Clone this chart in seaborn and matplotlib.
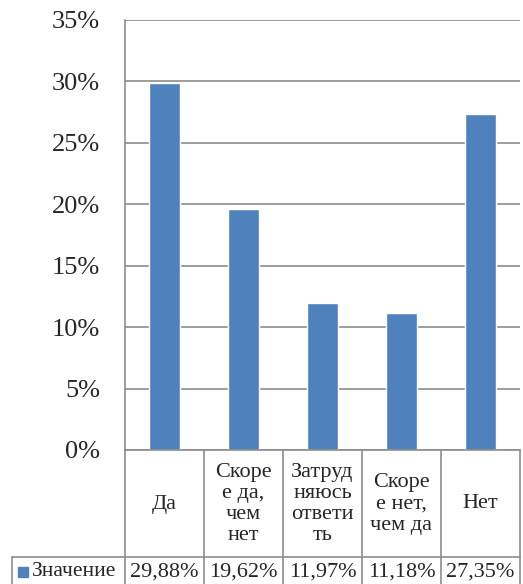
import matplotlib
matplotlib.use("Agg")
import matplotlib.pyplot as plt
from matplotlib.patches import Rectangle
from matplotlib.lines import Line2D
import seaborn as sns
import pandas as pd

categories = ['Да', 'Скоре\nе да,\nчем\nнет', 'Затруд\nняюсь\nответи\nть', 'Скоре\nе нет,\nчем да', 'Нет']
values = [29.88, 19.62, 11.97, 11.18, 27.35]
value_labels = ['29,88%', '19,62%', '11,97%', '11,18%', '27,35%']
series_name = 'Значение'
yticks = [0, 5, 10, 15, 20, 25, 30, 35]

sns.set_style('white')
FONT = 'Liberation Serif'
plt.rcParams['font.family'] = [FONT, 'DejaVu Serif']

W, H = 523, 584
fig = plt.figure(figsize=(W / 100, H / 100), dpi=100)
# plot area in pixels: x 125..520, y 20..450
ax = fig.add_axes([125 / W, (H - 450) / H, 395 / W, 430 / H])

df = pd.DataFrame({'cat': categories, 'val': values})
sns.barplot(data=df, x='cat', y='val', color='#4F81BD', saturation=1,
            width=0.4, ax=ax)

grid_color = '#8C8C8C'
ax.set_ylim(0, 35)
ax.set_xlim(-0.5, len(categories) - 0.5)
ax.set_yticks(yticks)
ax.set_yticklabels([f'{v}%' for v in yticks], fontsize=19, family=FONT)
ax.tick_params(axis='y', length=0, pad=18)
ax.set_xticks([])
ax.set_xlabel('')
ax.set_ylabel('')
ax.yaxis.grid(True, color=grid_color, linewidth=1.2)
ax.set_axisbelow(True)
for s in ['top', 'right', 'bottom']:
    ax.spines[s].set_visible(False)
ax.spines['left'].set_color(grid_color)
ax.spines['left'].set_linewidth(1.2)

# data table below the axis, drawn in figure pixel coordinates
def px(x, y):
    return x / W, (H - y) / H

col_edges = [125 + 79 * i for i in range(len(categories) + 1)]
lw = 1.2
fig.add_artist(Line2D(*zip(px(125, 450), px(520, 450)), color=grid_color, lw=lw))
fig.add_artist(Line2D(*zip(px(12, 557), px(520, 557)), color=grid_color, lw=lw))
fig.add_artist(Line2D(*zip(px(12, 557), px(12, 584)), color=grid_color, lw=lw))
for xe in col_edges:
    fig.add_artist(Line2D(*zip(px(xe, 450), px(xe, 584)), color=grid_color, lw=lw))

for i, (lab, vl) in enumerate(zip(categories, value_labels)):
    cx = (col_edges[i] + col_edges[i + 1]) / 2
    fig.text(*px(cx, 504), lab, ha='center', va='center', fontsize=16,
             linespacing=1.15, family=FONT)
    fig.text(*px(cx, 572), vl, ha='center', va='center', fontsize=16,
             family=FONT)

# legend key and series name
fig.add_artist(Rectangle(px(18, 577), 10 / W, 10 / H, color='#4F81BD'))
fig.text(*px(32, 572), series_name, ha='left', va='center', fontsize=15.5,
         family=FONT)

fig.savefig('out.png', dpi=100)
